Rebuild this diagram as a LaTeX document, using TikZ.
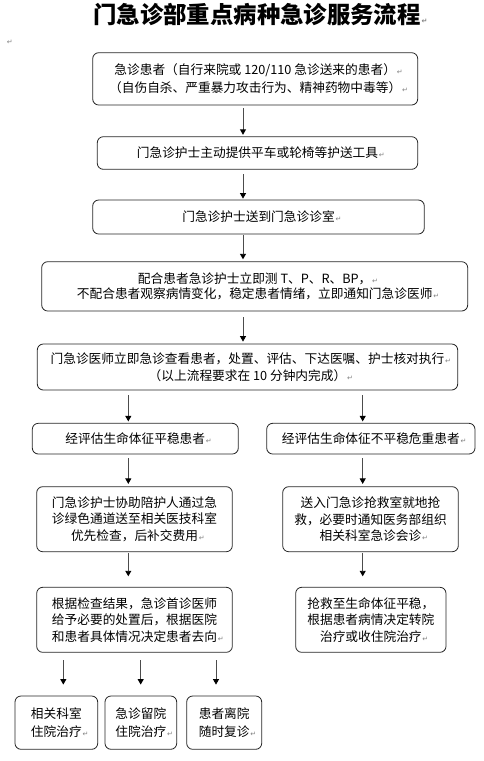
\documentclass[tikz,border=0pt]{standalone}
\usepackage{fontspec}
\usetikzlibrary{arrows.meta}
\newfontfamily\cjk{Noto Sans CJK SC}
\newfontfamily\dejavu{DejaVu Sans}
\newcommand{\retmk}{\rlap{\hspace{0.8pt}{\dejavu\fontsize{7}{7}\selectfont\color{black!50}↵}}}
\begin{document}
\begin{tikzpicture}[x=1pt,y=-1pt,
  box/.style={draw=black!85, line width=0.8pt, rounded corners=6pt, align=center,
    inner sep=0pt, font=\cjk\fontsize{12.7}{16.5}\selectfont},
  lsk/.style={font=\cjk\fontsize{12.7}{#1}\selectfont},
  arr/.style={draw=black!70, line width=0.9pt,
    -{Triangle[length=5.5pt,width=6pt,color=black]}}]
\useasboundingbox (0,0) rectangle (484,761);

\node[font=\cjk\bfseries\fontsize{23.4}{26}\selectfont] (title) at (257,15) {门急诊部重点病种急诊服务流程\retmk};
\node (pm) at (6,42) {\retmk};

\node[box, lsk=17.6, minimum width=325, minimum height=52.3] (b1) at (255.2,78.85)
  {急诊患者（自行来院或 120/110 急诊送来的患者）\retmk\\（自伤自杀、严重暴力攻击行为、精神药物中毒等）\retmk};
\node[box, minimum width=320.4, minimum height=32.6] (b2) at (257.5,153)
  {门急诊护士主动提供平车或轮椅等护送工具\retmk};
\node[box, minimum width=331.6, minimum height=34] (b3) at (258.5,217)
  {门急诊护士送到门急诊诊室\retmk};
\node[box, lsk=15.2, minimum width=426, minimum height=49.3] (b4) at (254.7,286.35)
  {配合患者急诊护士立即测 T、P、R、BP，\retmk\\不配合患者观察病情变化，稳定患者情绪，立即通知门急诊医师\retmk};
\node[box, lsk=17.4, minimum width=420.4, minimum height=46] (b5) at (247.5,367)
  {门急诊医师立即急诊查看患者，处置、评估、下达医嘱、护士核对执行\retmk\\（以上流程要求在 10 分钟内完成）\retmk};

\node[box, minimum width=206, minimum height=30.7] (b6l) at (135.3,438.65)
  {经评估生命体征平稳患者\retmk};
\node[box, minimum width=208.3, minimum height=30.7] (b6r) at (370.85,438.65)
  {经评估生命体征不平稳危重患者\retmk};

\node[box, lsk=16.2, minimum width=195.6, minimum height=65] (b7l) at (134.5,519.2)
  {门急诊护士协助陪护人通过急\\诊绿色通道送至相关医技科室\\优先检查，后补交费用\retmk};
\node[box, lsk=16.2, minimum width=175.6, minimum height=65] (b7r) at (370.5,519.2)
  {送入门急诊抢救室就地抢\\救，必要时通知医务部组织\\相关科室急诊会诊\retmk};

\node[box, lsk=16.5, minimum width=195.6, minimum height=65] (b8l) at (134.5,619.8)
  {根据检查结果，急诊首诊医师\\给予必要的处置后，根据医院\\和患者具体情况决定患者去向\retmk};
\node[box, lsk=16.5, minimum width=150.3, minimum height=65] (b8r) at (370.85,619.8)
  {抢救至生命体征平稳，\\根据患者病情决定转院\\治疗或收住院治疗\retmk};

\node[box, lsk=17.3, minimum width=82.7, minimum height=53.3] (b9a) at (56.35,722.65)
  {相关科室\\住院治疗\retmk};
\node[box, lsk=17.3, minimum width=71.7, minimum height=53.3] (b9b) at (140.85,722.65)
  {急诊留院\\住院治疗\retmk};
\node[box, lsk=17.3, minimum width=75, minimum height=53.3] (b9c) at (224.2,722.65)
  {患者离院\\随时复诊\retmk};

\coordinate (xm) at (243,0);
\coordinate (xl) at (128.3,0);
\coordinate (xr) at (362.7,0);
\coordinate (xa) at (63.3,0);
\coordinate (xb) at (140.7,0);
\coordinate (xc) at (216,0);

\draw[arr, shorten <=3pt, shorten >=1.5pt] (b1.south -| xm) -- (b2.north -| xm);
\draw[arr, shorten <=4.5pt, shorten >=1pt] (b2.south -| xm) -- (b3.north -| xm);
\draw[arr, shorten <=1pt, shorten >=2pt] (b3.south -| xm) -- (b4.north -| xm);
\draw[arr, shorten <=6pt, shorten >=2pt] (b4.south -| xm) -- (b5.north -| xm);

\draw[arr, shorten <=5pt, shorten >=1.5pt] (b5.south -| xl) -- (b6l.north -| xl);
\draw[arr, shorten <=5pt, shorten >=1.5pt] (b5.south -| xr) -- (b6r.north -| xr);

\draw[arr, shorten <=4pt, shorten >=2.4pt] (b6l.south -| xl) -- (b7l.north -| xl);
\draw[arr, shorten <=4pt, shorten >=2.4pt] (b6r.south -| xr) -- (b7r.north -| xr);

\draw[arr, shorten <=1pt, shorten >=10.6pt] (b7l.south -| xl) -- (b8l.north -| xl);
\draw[arr, shorten <=1pt, shorten >=10.6pt] (b7r.south -| xr) -- (b8r.north -| xr);

\draw[arr, shorten <=7.7pt, shorten >=11pt] (b8l.south -| xa) -- (b9a.north -| xa);
\draw[arr, shorten <=7.7pt, shorten >=11pt] (b8l.south -| xb) -- (b9b.north -| xb);
\draw[arr, shorten <=7.7pt, shorten >=11pt] (b8l.south -| xc) -- (b9c.north -| xc);
\end{tikzpicture}
\end{document}
